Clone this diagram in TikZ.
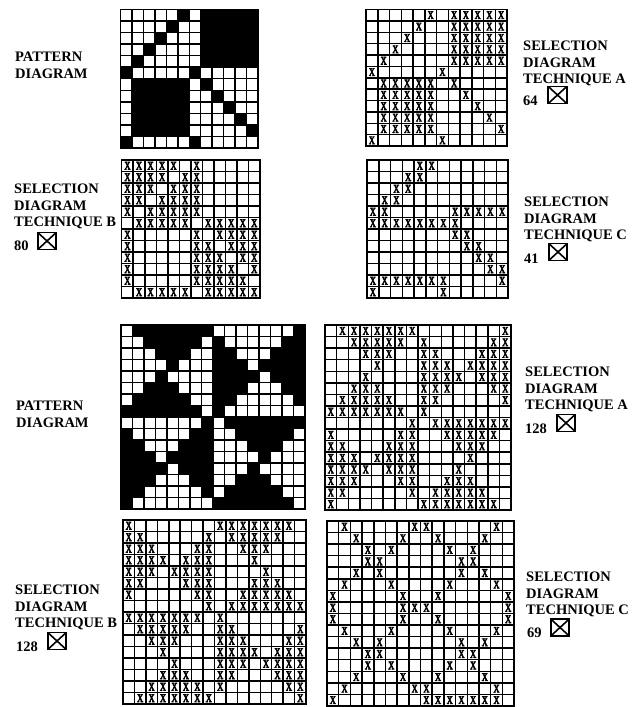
\documentclass[tikz,border=0pt]{standalone}
\usepackage{fontspec}
\setmainfont{Liberation Serif}
\newfontfamily\xfont[FakeStretch=0.72,FakeBold=5]{Liberation Serif}
\tikzset{
 gridline/.style={draw=black,line width=1.5pt,line cap=rect},
 xmark/.style={inner sep=0pt,font=\fontsize{11.5}{11.5}\selectfont\xfont},
 lbl/.style={anchor=north west,inner sep=0pt,align=left,font=\fontsize{14.5}{16.5}\selectfont\bfseries},
 tickbox/.style={draw=black,line width=1.8pt,inner sep=0pt,minimum width=18.5pt,minimum height=17pt,
  path picture={\draw[line width=1.6pt] (path picture bounding box.north west)--(path picture bounding box.south east) (path picture bounding box.north east)--(path picture bounding box.south west);}}
}
% rows of marked cells, row/{columns}
\newcommand{\rowsA}{1/{6,8,9,10,11,12},2/{5,8,9,10,11,12},3/{4,8,9,10,11,12},4/{3,8,9,10,11,12},5/{2,8,9,10,11,12},6/{1,7},7/{2,3,4,5,6,8},8/{2,3,4,5,6,9},9/{2,3,4,5,6,10},10/{2,3,4,5,6,11},11/{2,3,4,5,6,12},12/{1,7}}
\newcommand{\rowsB}{1/{1,2,3,4,5,7},2/{1,2,3,4,6,7},3/{1,2,3,5,6,7},4/{1,2,4,5,6,7},5/{1,3,4,5,6,7},6/{2,3,4,5,6,8,9,10,11,12},7/{1,7,9,10,11,12},8/{1,7,8,10,11,12},9/{1,7,8,9,11,12},10/{1,7,8,9,10,12},11/{1,7,8,9,10,11},12/{2,3,4,5,6,8,9,10,11,12}}
\newcommand{\rowsC}{1/{5,6},2/{4,5},3/{3,4},4/{2,3},5/{1,2,8,9,10,11,12},6/{1,2,3,4,5,6,7,8},7/{8,9},8/{9,10},9/{10,11},10/{11,12},11/{1,2,3,4,5,6,7,12},12/{1,7}}
\newcommand{\rowsD}{1/{1,9,10,11,12,13,14,15},2/{1,2,8,10,11,12,13,14},3/{1,2,3,7,8,11,12,13},4/{1,2,3,4,6,7,8,12},5/{1,2,3,5,6,7,8,13},6/{1,2,6,7,8,12,13,14},7/{1,7,8,11,12,13,14,15},8/{8,10,11,12,13,14,15,16},9/{1,2,3,4,5,6,7,9},10/{2,3,4,5,6,9,10,16},11/{3,4,5,9,10,11,15,16},12/{4,9,10,11,12,14,15,16},13/{5,9,10,11,13,14,15,16},14/{4,5,6,9,10,14,15,16},15/{3,4,5,6,7,9,15,16},16/{2,3,4,5,6,7,8,16}}
\newcommand{\rowsE}{1/{2,8,9,15},2/{3,7,10,14},3/{4,6,11,13},4/{4,5,12,13},5/{3,5,12,14},6/{2,6,11,15},7/{1,7,10,16},8/{1,7,8,9,16},9/{1,7,10,16},10/{2,6,11,15},11/{3,5,12,14},12/{4,5,12,13},13/{4,6,11,13},14/{3,7,10,14},15/{2,8,9,15},16/{1,9,10,11,12,13,14,15}}
\newcommand{\fillcells}[2]{\foreach \r/\cs in #2 \foreach \c in \cs \fill[#1] (\c-1,\r-1) rectangle (\c,\r);}
\newcommand{\markcells}[1]{\foreach \r/\cs in #1 \foreach \c in \cs \node[xmark] at (\c-.5,\r-.5) {X};}
\newcommand{\gridlines}[1]{\foreach \i in {0,...,#1} \draw[gridline] (\i,0)--(\i,#1) (0,\i)--(#1,\i);}
\begin{document}
\begin{tikzpicture}[x=1pt,y=-1pt]
\useasboundingbox (0,0) rectangle (642,707);
% upper pattern and selections
\begin{scope}[shift={(120.5,9.5)},x=11.46pt,y=-11.54pt]
\fillcells{black}{\rowsA}
\gridlines{12}
\end{scope}
\begin{scope}[shift={(366,9.5)},x=11.75pt,y=-11.38pt]
\gridlines{12}
\markcells{\rowsA}
\end{scope}
\begin{scope}[shift={(121.7,160)},x=11.53pt,y=-11.5pt]
\gridlines{12}
\markcells{\rowsB}
\end{scope}
\begin{scope}[shift={(367,160)},x=11.75pt,y=-11.5pt]
\gridlines{12}
\markcells{\rowsC}
\end{scope}
% lower pattern and selections
\begin{scope}[shift={(121,325)},x=11.5pt,y=-11.5pt]
\fill[black] (0,0) rectangle (16,16);
\fillcells{white}{\rowsD}
\gridlines{16}
\end{scope}
\begin{scope}[shift={(325,510)},x=11.63pt,y=11.56pt]
\gridlines{16}
\markcells{\rowsD}
\end{scope}
\begin{scope}[shift={(123,520)},x=11.44pt,y=-11.5pt]
\gridlines{16}
\markcells{\rowsD}
\end{scope}
\begin{scope}[shift={(327,521)},x=11.69pt,y=-11.56pt]
\gridlines{16}
\markcells{\rowsE}
\end{scope}
% labels
\node[lbl] (pa) at (15,52) {PATTERN\\DIAGRAM};
\node[lbl] (sa) at (523,41) {SELECTION\\DIAGRAM\\TECHNIQUE A};
\node[lbl] (sb) at (14,184) {SELECTION\\DIAGRAM\\TECHNIQUE B};
\node[lbl] (sc) at (524,197) {SELECTION\\DIAGRAM\\TECHNIQUE C};
\node[lbl] (pb) at (16,401) {PATTERN\\DIAGRAM};
\node[lbl] (sd) at (525,367) {SELECTION\\DIAGRAM\\TECHNIQUE A};
\node[lbl] (se) at (15,585) {SELECTION\\DIAGRAM\\TECHNIQUE B};
\node[lbl] (sf) at (526,572) {SELECTION\\DIAGRAM\\TECHNIQUE C};
% counts and tick boxes
\foreach \n/\t/\x/\y/\u/\v in {ca/64/523/96/557.5/95,cb/80/14/241/47/241,cc/41/524/254/558/252,cd/128/525/424/566/423,ce/128/16/642/57/641,cf/69/527/628/560/627.5}{
 \node[lbl] (\n) at (\x,\y) {\t};
 \node[tickbox] (t\n) at (\u,\v) {};
}
\end{tikzpicture}
\end{document}
